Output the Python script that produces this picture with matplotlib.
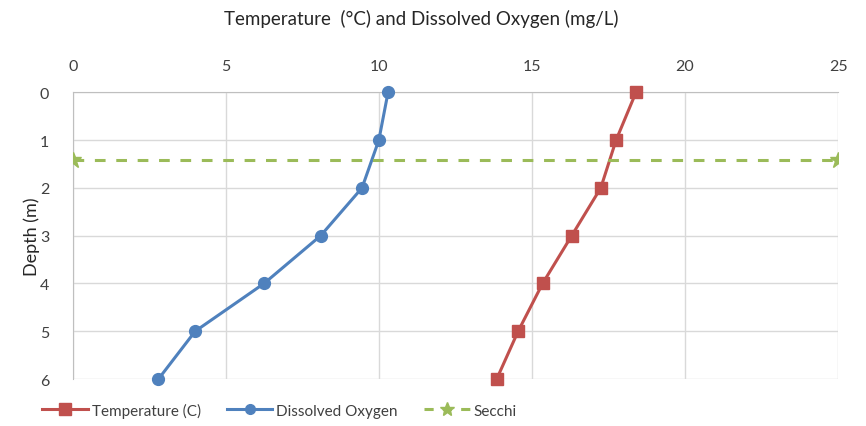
import matplotlib
matplotlib.use("Agg")
import matplotlib.pyplot as plt
from matplotlib.lines import Line2D

plt.rcParams['font.family'] = ['Lato', 'DejaVu Sans']

depth = [0, 1, 2, 3, 4, 5, 6]
temperature = [18.4, 17.75, 17.25, 16.3, 15.35, 14.55, 13.85]
dissolved_oxygen = [10.3, 10.0, 9.45, 8.1, 6.25, 4.0, 2.8]
secchi_x = [0, 25]
secchi_depth = [1.42, 1.42]
x_ticks = [0, 5, 10, 15, 20, 25]
y_ticks = [0, 1, 2, 3, 4, 5, 6]

red = '#c0504d'
blue = '#4f81bd'
green = '#9bbb59'
txt = '#404040'

fig = plt.figure(figsize=(8.66, 4.27), dpi=100)
ax = fig.add_axes([0.0840, 0.110, 0.8837, 0.6715])

ax.plot(temperature, depth, color=red, lw=2.2, marker='s', ms=9, zorder=3,
        clip_on=False, label='Temperature (C)')
ax.plot(dissolved_oxygen, depth, color=blue, lw=2.2, marker='o', ms=8.5, zorder=3,
        clip_on=False, label='Dissolved Oxygen')
ax.plot(secchi_x, secchi_depth, color=green, lw=2.2, ls=(0, (3.5, 3.5)), marker='*',
        ms=12, zorder=3, label='Secchi')

ax.set_xlim(0, 25)
ax.set_ylim(6, 0)
ax.set_xticks(x_ticks)
ax.set_yticks(y_ticks)
ax.xaxis.tick_top()
ax.tick_params(axis='both', length=0, labelsize=11.5, colors=txt)
ax.tick_params(axis='x', pad=14)
ax.tick_params(axis='y', pad=17)
ax.grid(True, color='#d9d9d9', lw=1)
ax.set_axisbelow(True)
for s in ['right', 'bottom']:
    ax.spines[s].set_visible(False)
ax.spines['top'].set_color('#bfbfbf')
ax.spines['left'].set_color('#bfbfbf')

ax.set_ylabel('Depth (m)', fontsize=13, color='#262626', labelpad=0)

fig.text(0.486, 0.955, 'Temperature  (°C) and Dissolved Oxygen (mg/L)', ha='center',
         va='center', fontsize=13.5, color='#262626')

handles = [
    Line2D([], [], color=red, lw=2.2, marker='s', ms=8),
    Line2D([], [], color=blue, lw=2.2, marker='o', ms=7),
    Line2D([], [], color=green, lw=2.2, ls=(0, (3, 3)), marker='*', ms=10),
]
fig.legend(handles, ['Temperature (C)', 'Dissolved Oxygen', 'Secchi'],
           loc='center left', bbox_to_anchor=(0.036, 0.037), ncol=3, frameon=False,
           fontsize=11, labelcolor=txt, handlelength=3.0, handletextpad=0.25,
           columnspacing=1.7, borderpad=0.2)

fig.savefig('out.png', dpi=100)
